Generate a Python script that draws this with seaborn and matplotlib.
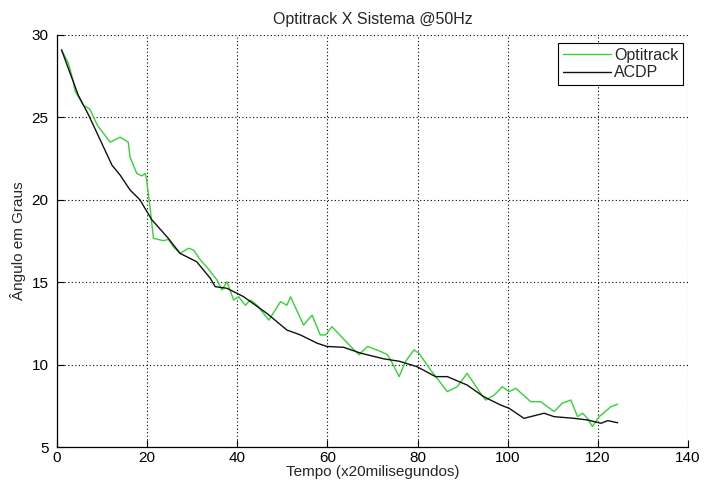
import matplotlib
matplotlib.use("Agg")
import matplotlib.pyplot as plt
import seaborn as sns
import pandas as pd

# Optitrack measurement (time in 20 ms samples, angle in degrees)
opti_t = [1, 2.5, 3.6, 4, 5.8, 7.3, 9, 11.8, 14, 15.8, 16.2, 17.7, 18.8, 19.6, 19.9,
          20.7, 21.4, 23.6, 24.7, 25.8, 27.3, 29.2, 30.3, 31.8, 33.3, 35.5, 36.6,
          37.7, 39.2, 40.3, 41.8, 42.9, 44.4, 47, 49.6, 51, 51.8, 54.7, 56.6, 58.4,
          59.6, 61, 65.5, 67, 68.9, 71.8, 73.3, 74.4, 75.9, 77.3, 79.2, 80.3, 82.9,
          86.6, 88.8, 91, 94, 95.1, 97, 98.8, 100.3, 101.8, 105.1, 107.3, 110.3,
          112.1, 114, 115.5, 116.6, 117.7, 118.8, 120.3, 122.9, 124.4]
opti_deg = [29.1, 28.3, 27.2, 26.6, 25.75, 25.5, 24.5, 23.5, 23.8, 23.5, 22.6, 21.6,
            21.45, 21.6, 21.2, 19.4, 17.66, 17.52, 17.6, 17.15, 16.75, 17.06, 16.95,
            16.35, 15.9, 15.13, 14.53, 15.03, 13.92, 14.12, 13.6, 13.92, 13.6, 12.7,
            13.82, 13.6, 14.12, 12.4, 13.0, 11.8, 11.8, 12.3, 11.0, 10.6, 11.1, 10.8,
            10.6, 10.1, 9.27, 10.18, 10.89, 10.69, 9.67, 8.36, 8.66, 9.47, 8.25,
            7.85, 8.15, 8.66, 8.36, 8.56, 7.75, 7.75, 7.15, 7.65, 7.85, 6.84, 7.05,
            6.74, 6.24, 6.84, 7.45, 7.6]

# ACDP system estimate
acdp_t = [1, 4.7, 7, 12.2, 14, 16.2, 18.4, 21, 24.7, 27.3, 31, 34, 35.1, 37.7, 41.4,
          46.6, 51, 54, 57.7, 59.9, 63.6, 67.3, 72.5, 76, 79.9, 84, 86.6, 91, 94.7,
          98.4, 100.3, 103.6, 108.1, 110.3, 114.7, 117.7, 120.7, 122.2, 124.4]
acdp_deg = [29.1, 26.36, 25.15, 22.1, 21.5, 20.6, 20.0, 18.8, 17.66, 16.75, 16.24,
            15.24, 14.73, 14.63, 14.12, 13.1, 12.1, 11.8, 11.3, 11.1, 11.05, 10.7,
            10.35, 10.2, 9.87, 9.27, 9.27, 8.76, 8.05, 7.55, 7.35, 6.74, 7.05, 6.84,
            6.74, 6.64, 6.44, 6.6, 6.47]

x_ticks = [0, 20, 40, 60, 80, 100, 120, 140]
y_ticks = [5, 10, 15, 20, 25, 30]

sns.set_theme(style="white")
plt.rcParams["font.family"] = ["Liberation Sans", "DejaVu Sans"]
plt.rcParams["font.size"] = 11

fig = plt.figure(figsize=(7.04, 4.86), dpi=100, facecolor="white")
ax = fig.add_axes([57 / 704, 1 - 447 / 486, (688 - 57) / 704, (447 - 35) / 486])

opti = pd.DataFrame({"t": opti_t, "deg": opti_deg})
acdp = pd.DataFrame({"t": acdp_t, "deg": acdp_deg})

sns.lineplot(data=opti, x="t", y="deg", ax=ax, color="#33d433", linewidth=1.0,
             sort=False, estimator=None, label="Optitrack")
sns.lineplot(data=acdp, x="t", y="deg", ax=ax, color="#111111", linewidth=1.0,
             sort=False, estimator=None, label="ACDP")

ax.set_xlim(0, 140)
ax.set_ylim(5, 30)
ax.set_xticks(x_ticks)
ax.set_yticks(y_ticks)
ax.grid(True, color="black", linestyle=(0, (1, 2.2)), linewidth=0.8)
ax.tick_params(direction="in", length=5, width=0.8, colors="black",
               labelsize=11, top=False, right=False, bottom=True, left=True)
ax.tick_params(axis="y", pad=6)
ax.tick_params(axis="x", pad=3)
for side in ("top", "right"):
    ax.spines[side].set_visible(False)
for side in ("left", "bottom"):
    ax.spines[side].set_color("black")
    ax.spines[side].set_linewidth(0.9)

ax.set_title("Optitrack X Sistema @50Hz", fontsize=11.5, pad=8)
ax.set_xlabel("Tempo (x20milisegundos)", fontsize=11, labelpad=0)
ax.set_ylabel("Ângulo em Graus", fontsize=11, labelpad=4)

leg = ax.legend(loc="upper right", bbox_to_anchor=(683 / 704, 1 - 43 / 486),
                bbox_transform=fig.transFigure, fancybox=False, framealpha=1,
                edgecolor="black", fontsize=11.5, handlelength=3.0,
                handletextpad=0.2, borderpad=0.3, labelspacing=0.15,
                borderaxespad=0)
leg.get_frame().set_linewidth(0.8)

fig.savefig("out.png", dpi=100, facecolor="white")
